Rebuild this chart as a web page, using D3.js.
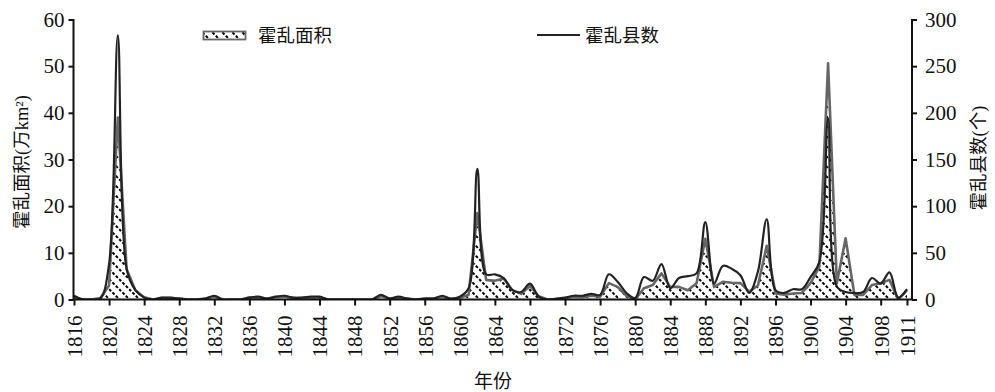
<!DOCTYPE html>
<html>
<head>
<meta charset="utf-8">
<script src="https://cdn.jsdelivr.net/npm/d3@7/dist/d3.min.js"></script>
<style>
  html, body { margin: 0; padding: 0; background: #fff; }
  svg { display: block; }
  text { font-family: "Liberation Serif", "Noto Sans CJK SC", serif; fill: #111; }
</style>
</head>
<body>
<svg id="chart" width="995" height="392"></svg>
<script>
// Years 1816–1911
const years = d3.range(1816, 1912);

// Cholera-affected area (10,000 km²), left axis
const areaValues = [
  0.5, 0, 0, 0.3, 3, 39, 6.5, 2, 0.5, 0,          // 1816–1825
  0.3, 0.3, 0.2, 0, 0, 0.2, 0.6, 0, 0, 0,         // 1826–1835
  0.4, 0.4, 0.2, 0.5, 0.6, 0.3, 0.3, 0.4, 0.4, 0, // 1836–1845
  0, 0, 0, 0, 0, 0.7, 0.2, 0.4, 0.2, 0,           // 1846–1855
  0.2, 0.2, 0.5, 0.1, 0.3, 1, 18.5, 4.2, 4, 4.5,  // 1856–1865
  2, 1.2, 2.9, 0.7, 0, 0.1, 0.3, 0.6, 0.5, 0.8,   // 1866–1875
  0.6, 3.5, 2.7, 0.8, 0, 2.4, 3.1, 5.6, 2.7, 2.7, // 1876–1885
  2, 3.5, 13, 2.7, 3.8, 3.6, 3.5, 1.7, 3, 11.5,   // 1886–1895
  1.3, 1, 1.3, 1.4, 3.5, 7, 50.6, 3.5, 13.1, 1,   // 1896–1905
  1, 3.1, 3.5, 4.2, 0, 2                          // 1906–1911
];

// Number of counties with cholera, right axis
const countyValues = [
  4, 0, 0, 1, 38, 283, 33, 10, 2, 0,              // 1816–1825
  2, 2, 1, 0, 0, 1, 4, 0, 0, 0,                   // 1826–1835
  2, 3, 1, 3, 4, 2, 2, 3, 3, 0,                   // 1836–1845
  0, 0, 0, 0, 0, 5, 1, 3, 1, 0,                   // 1846–1855
  1, 1, 4, 1, 3, 12, 140, 27, 27, 23,             // 1856–1865
  10, 8, 17, 3, 0, 1, 2, 4, 4, 6,                 // 1866–1875
  5, 27, 19, 7, 1.5, 24, 20, 38, 12, 23,          // 1876–1885
  25, 28, 83, 17, 36, 33, 26, 7, 30, 86,          // 1886–1895
  10, 7, 11, 11, 24, 40, 194, 14, 8, 7,           // 1896–1905
  8, 23, 17, 29, 2, 11                            // 1906–1911
];

const xTickYears = [1816, 1820, 1824, 1828, 1832, 1836, 1840, 1844, 1848, 1852,
  1856, 1860, 1864, 1868, 1872, 1876, 1880, 1884, 1888, 1892, 1896, 1900, 1904, 1908, 1911];
const leftTicks = [0, 10, 20, 30, 40, 50, 60];
const rightTicks = [0, 50, 100, 150, 200, 250, 300];

const svg = d3.select("#chart");

const plot = { left: 73.5, right: 912, top: 19.5, bottom: 299.5 };

const x = d3.scaleLinear().domain([1816, 1911]).range([74, 907]);
const yL = d3.scaleLinear().domain([0, 60]).range([plot.bottom, plot.top]);
const yR = d3.scaleLinear().domain([0, 300]).range([plot.bottom, plot.top]);

// Hatch pattern: dashed diagonals running down to the right
const defs = svg.append("defs");
const P = 10;
const pat = defs.append("pattern")
  .attr("id", "hatch")
  .attr("patternUnits", "userSpaceOnUse")
  .attr("width", P).attr("height", P);
pat.append("rect").attr("width", P).attr("height", P).attr("fill", "#fff");
pat.append("path")
  .attr("d", `M-1,-1 L${P + 1},${P + 1} M-1,${P - 1} L1,${P + 1} M${P - 1},-1 L${P + 1},1`)
  .attr("stroke", "#000").attr("stroke-width", 2)
  .attr("stroke-dasharray", "3,1.8");

defs.append("clipPath").attr("id", "plotClip")
  .append("rect")
  .attr("x", plot.left).attr("y", 0)
  .attr("width", plot.right - plot.left).attr("height", plot.bottom);

const g = svg.append("g").attr("clip-path", "url(#plotClip)");

const areaData = years.map((yr, i) => ({ yr, v: areaValues[i] }));
const countyData = years.map((yr, i) => ({ yr, v: countyValues[i] }));

// Area series: hatched fill with grey outline
g.append("path")
  .datum(areaData)
  .attr("fill", "url(#hatch)")
  .attr("d", d3.area().x(d => x(d.yr)).y0(yL(0)).y1(d => yL(d.v)));
g.append("path")
  .datum(areaData)
  .attr("fill", "none")
  .attr("stroke", "#666")
  .attr("stroke-width", 2.6)
  .attr("stroke-linejoin", "round")
  .attr("d", d3.line().x(d => x(d.yr)).y(d => yL(d.v)));

// County count: smoothed dark line
g.append("path")
  .datum(countyData)
  .attr("fill", "none")
  .attr("stroke", "#222")
  .attr("stroke-width", 2.2)
  .attr("d", d3.line().curve(d3.curveCatmullRom.alpha(0.5)).x(d => x(d.yr)).y(d => yR(Math.max(0, d.v))));

// Axes
const axisColor = "#111";
const fontSize = 21;

const leftAxis = svg.append("g")
  .attr("transform", `translate(${plot.left},0)`)
  .call(d3.axisLeft(yL).tickValues(leftTicks).tickSize(5).tickPadding(4).tickFormat(d3.format("d")));
const rightAxis = svg.append("g")
  .attr("transform", `translate(${plot.right},0)`)
  .call(d3.axisRight(yR).tickValues(rightTicks).tickSize(5).tickPadding(8).tickFormat(d3.format("d")));
const bottomAxis = svg.append("g")
  .attr("transform", `translate(0,${plot.bottom})`)
  .call(d3.axisBottom(x).tickValues(xTickYears).tickSize(6).tickFormat(d3.format("d")));

[leftAxis, rightAxis, bottomAxis].forEach(a => {
  a.select(".domain").remove();
  a.selectAll(".tick line").attr("stroke", axisColor).attr("stroke-width", 2);
  a.selectAll(".tick text").attr("font-size", fontSize).attr("fill", axisColor)
    .style("font-family", '"Liberation Serif", serif');
});

bottomAxis.selectAll(".tick text")
  .attr("transform", "rotate(-90)")
  .attr("text-anchor", "end")
  .attr("x", -16)
  .attr("y", 0)
  .attr("dy", "0.35em");

// Axis lines
svg.append("line").attr("x1", plot.left).attr("x2", plot.left)
  .attr("y1", plot.top - 0.5).attr("y2", plot.bottom + 0.5)
  .attr("stroke", axisColor).attr("stroke-width", 2);
svg.append("line").attr("x1", plot.right).attr("x2", plot.right)
  .attr("y1", plot.top - 0.5).attr("y2", plot.bottom + 0.5)
  .attr("stroke", axisColor).attr("stroke-width", 2);
svg.append("line").attr("x1", plot.left).attr("x2", plot.right)
  .attr("y1", plot.bottom).attr("y2", plot.bottom)
  .attr("stroke", axisColor).attr("stroke-width", 2.2);

// Axis titles
svg.append("text")
  .attr("transform", `translate(28,162) rotate(-90)`)
  .attr("text-anchor", "middle")
  .attr("font-size", 18.5)
  .text("霍乱面积(万km²)");
svg.append("text")
  .attr("transform", `translate(985,158) rotate(-90)`)
  .attr("text-anchor", "middle")
  .attr("font-size", 18.5)
  .text("霍乱县数(个)");
svg.append("text")
  .attr("x", 493).attr("y", 388)
  .attr("text-anchor", "middle")
  .attr("font-size", 19)
  .text("年份");

// Legend
svg.append("rect")
  .attr("x", 203.5).attr("y", 31.5).attr("width", 42).attr("height", 8)
  .attr("fill", "url(#hatch)").attr("stroke", "#666").attr("stroke-width", 1.8);
svg.append("text").attr("x", 258).attr("y", 42).attr("font-size", 18.5).text("霍乱面积");
svg.append("line").attr("x1", 537).attr("x2", 580).attr("y1", 35).attr("y2", 35)
  .attr("stroke", "#222").attr("stroke-width", 2.2);
svg.append("text").attr("x", 585).attr("y", 42).attr("font-size", 18.5).text("霍乱县数");
</script>
</body>
</html>
